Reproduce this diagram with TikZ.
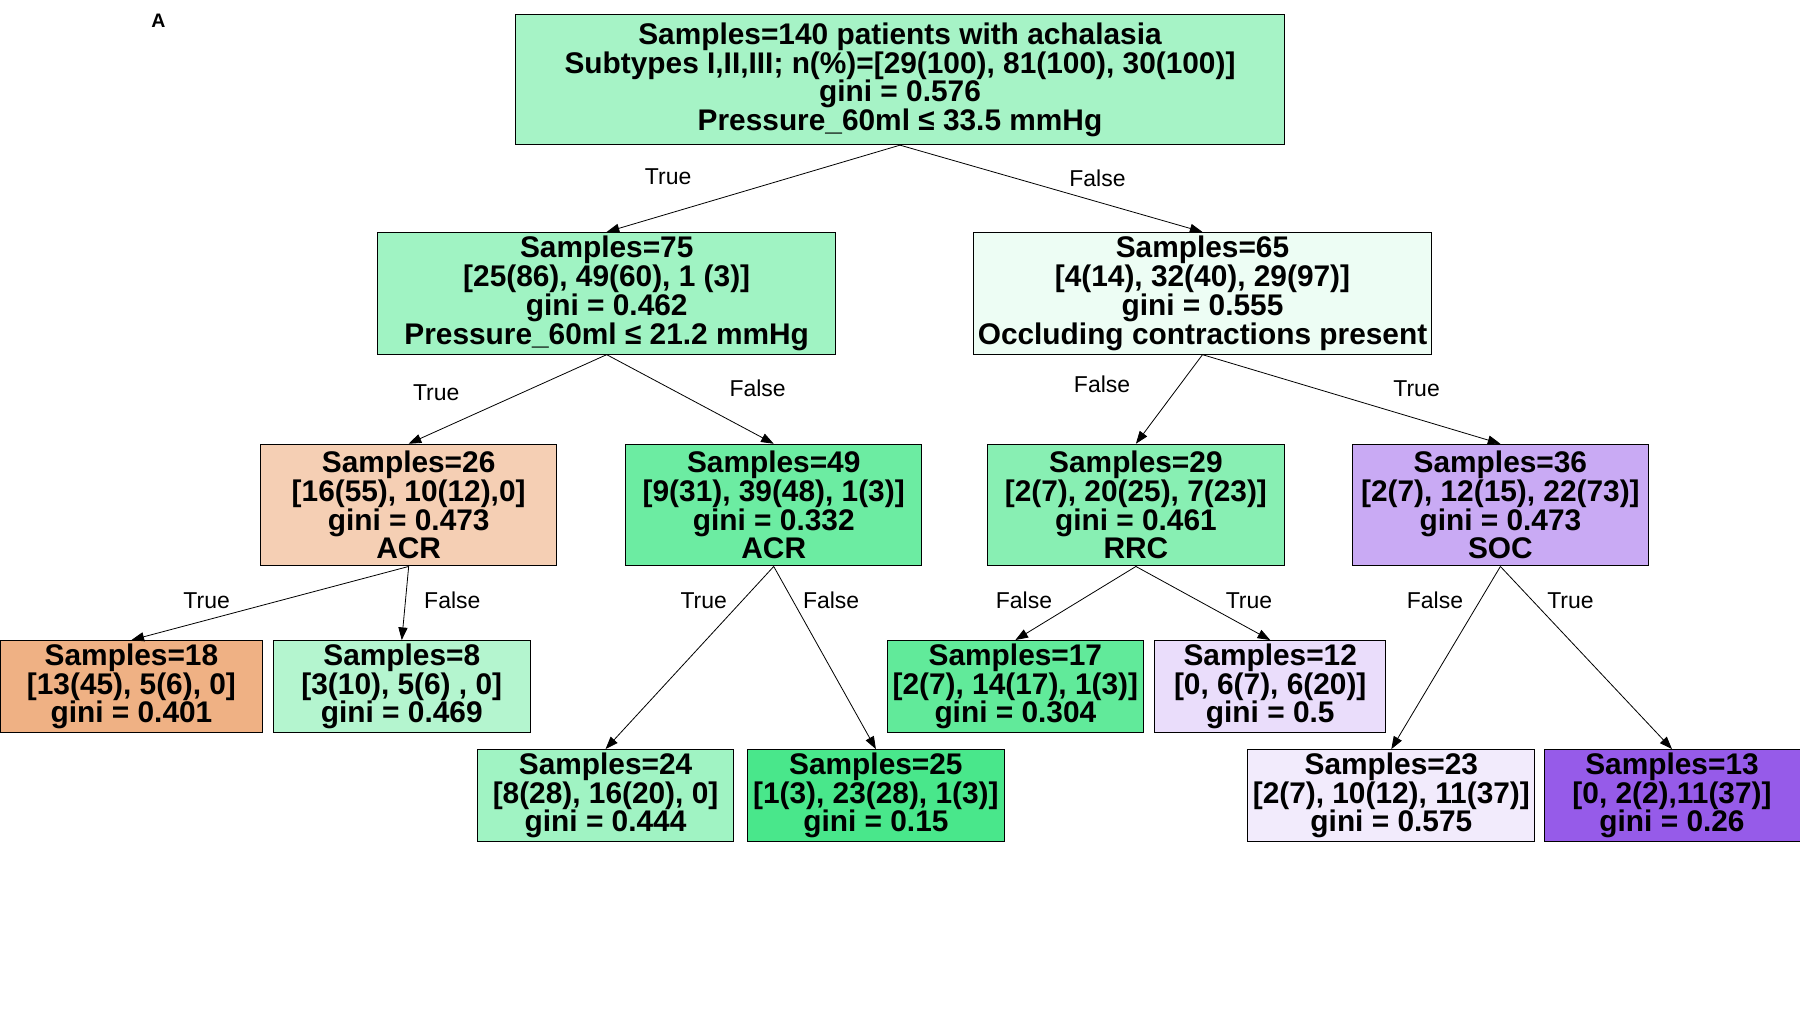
\documentclass[tikz,border=0pt]{standalone}
\usepackage{fontspec}
\setmainfont{Liberation Sans}
\usetikzlibrary{arrows.meta}

\definecolor{acr}{HTML}{E58139}
\definecolor{rrc}{HTML}{39E581}
\definecolor{soc}{HTML}{8139E5}

\tikzset{
  box/.style={draw, line width=0.9pt, inner sep=0pt, align=center,
    font=\fontsize{26}{25}\selectfont\bfseries},
  inner/.style={box, minimum height=106pt},
  leaf/.style={box, minimum height=80pt},
  branch/.style={line width=0.7pt, -{Triangle[length=11pt,width=8pt]}},
  lbl/.style={font=\fontsize{20}{22}\selectfont}
}

\begin{document}
\begin{tikzpicture}[x=1pt,y=-1pt]
\useasboundingbox (0,0) rectangle (1568,882);
\node[font=\fontsize{17}{17}\selectfont\bfseries] (tag) at (138,18) {A};

% root and first split
\node[box, fill=rrc!45, minimum width=670pt, minimum height=113pt] (s140) at (784,69.5)
  {Samples=140 patients with achalasia\\Subtypes I,II,III; n(\%)=[29(100), 81(100), 30(100)]\\gini = 0.576\\Pressure\_60ml ≤ 33.5 mmHg};
\node[inner, fill=rrc!48, minimum width=399pt] (s75) at (528.5,255.5)
  {Samples=75\\{}[25(86), 49(60), 1 (3)]\\gini = 0.462\\Pressure\_60ml ≤ 21.2 mmHg};
\node[inner, fill=rrc!9, minimum width=399pt] (s65) at (1047.5,255.5)
  {Samples=65\\{}[4(14), 32(40), 29(97)]\\gini = 0.555\\Occluding contractions present};

% second level
\node[inner, fill=acr!38, minimum width=258pt] (s26) at (356,440)
  {Samples=26\\{}[16(55), 10(12),0]\\gini = 0.473\\ACR};
\node[inner, fill=rrc!74, minimum width=258pt] (s49) at (674,440)
  {Samples=49\\{}[9(31), 39(48), 1(3)]\\gini = 0.332\\ACR};
\node[inner, fill=rrc!60, minimum width=259pt] (s29) at (989.5,440)
  {Samples=29\\{}[2(7), 20(25), 7(23)]\\gini = 0.461\\RRC};
\node[inner, fill=soc!43, minimum width=258pt] (s36) at (1307,440)
  {Samples=36\\{}[2(7), 12(15), 22(73)]\\gini = 0.473\\SOC};

% leaves
\node[leaf, fill=acr!62, minimum width=229pt] (s18) at (114.5,598)
  {Samples=18\\{}[13(45), 5(6), 0]\\gini = 0.401};
\node[leaf, fill=rrc!38, minimum width=224pt] (s8) at (350,598)
  {Samples=8\\{}[3(10), 5(6) , 0]\\gini = 0.469};
\node[leaf, fill=rrc!80, minimum width=223pt] (s17) at (884.5,598)
  {Samples=17\\{}[2(7), 14(17), 1(3)]\\gini = 0.304};
\node[leaf, fill=soc!17, minimum width=201pt] (s12) at (1106.5,598)
  {Samples=12\\{}[0, 6(7), 6(20)]\\gini = 0.5};
\node[leaf, fill=rrc!48, minimum width=223pt] (s24) at (527.5,693)
  {Samples=24\\{}[8(28), 16(20), 0]\\gini = 0.444};
\node[leaf, fill=rrc!92, minimum width=224pt] (s25) at (763,693)
  {Samples=25\\{}[1(3), 23(28), 1(3)]\\gini = 0.15};
\node[leaf, fill=soc!10, minimum width=250pt] (s23) at (1212,693)
  {Samples=23\\{}[2(7), 10(12), 11(37)]\\gini = 0.575};
\node[leaf, fill=soc!83, minimum width=223pt] (s13) at (1456.5,693)
  {Samples=13\\{}[0, 2(2),11(37)]\\gini = 0.26};

% branches
\draw[branch] (s140.south) -- (s75.north);
\draw[branch] (s140.south) -- (s65.north);
\draw[branch] (s75.south) -- (s26.north);
\draw[branch] (s75.south) -- (s49.north);
\draw[branch] (s65.south) -- (s29.north);
\draw[branch] (s65.south) -- (s36.north);
\draw[branch] (s26.south) -- (s18.north);
\draw[branch] (s26.south) -- (s8.north);
\draw[branch] (s49.south) -- (s24.north);
\draw[branch] (s49.south) -- (s25.north);
\draw[branch] (s29.south) -- (s17.north);
\draw[branch] (s29.south) -- (s12.north);
\draw[branch] (s36.south) -- (s23.north);
\draw[branch] (s36.south) -- (s13.north);

% branch labels
\node[lbl] (t1) at (582,154) {True};
\node[lbl] (f1) at (956,155) {False};
\node[lbl] (t2) at (380,342) {True};
\node[lbl] (f2) at (660,338) {False};
\node[lbl] (f3) at (960,335) {False};
\node[lbl] (t3) at (1234,339) {True};
\node[lbl] (t4) at (180,523) {True};
\node[lbl] (f4) at (394,523) {False};
\node[lbl] (t5) at (613,523) {True};
\node[lbl] (f5) at (724,523) {False};
\node[lbl] (f6) at (892,523) {False};
\node[lbl] (t6) at (1088,523) {True};
\node[lbl] (f7) at (1250,523) {False};
\node[lbl] (t7) at (1368,523) {True};
\end{tikzpicture}
\end{document}
